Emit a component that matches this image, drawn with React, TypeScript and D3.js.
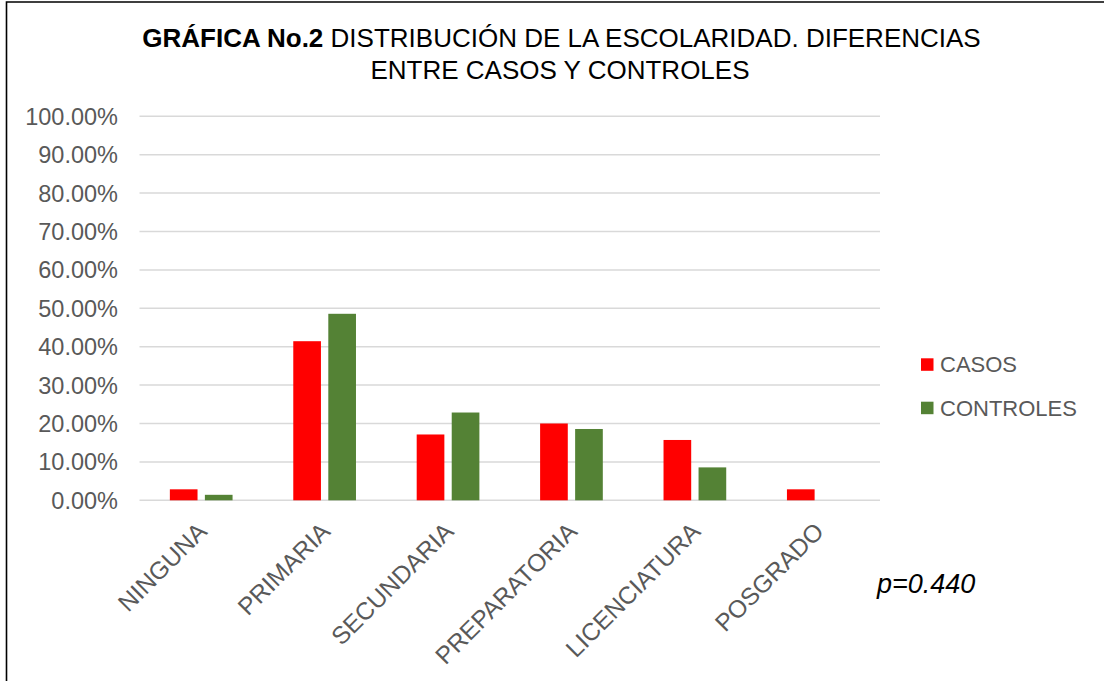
import React, { useEffect, useRef } from 'react';
import * as d3 from 'd3';

// datos de la gráfica
const categories = ['NINGUNA', 'PRIMARIA', 'SECUNDARIA', 'PREPARATORIA', 'LICENCIATURA', 'POSGRADO'];
const seriesNames = ['CASOS', 'CONTROLES'];
const casos = [2.86, 41.43, 17.14, 20.0, 15.71, 2.86];
const controles = [1.43, 48.57, 22.86, 18.57, 8.57, 0];
const yTicks = [0, 10, 20, 30, 40, 50, 60, 70, 80, 90, 100];
const colors = ['#FF0000', '#548235'];

const W = 1104;
const H = 681;
const FONT = '"Liberation Sans", Arial, sans-serif';

const App = () => {
  const svgRef = useRef<SVGSVGElement | null>(null);

  useEffect(() => {
    const svg = d3.select(svgRef.current);
    svg.selectAll('*').remove();

    svg.append('rect').attr('width', W).attr('height', H).attr('fill', '#fff');

    // marco (solo izquierda y arriba visibles)
    svg.append('path')
      .attr('d', `M6.5,${H} L6.5,2 L${W},2`)
      .attr('fill', 'none')
      .attr('stroke', '#000')
      .attr('stroke-width', 1.6);

    // escalas
    const x = d3.scaleBand().domain(categories).range([139.5, 880]).padding(0);
    const y = d3.scaleLinear().domain([0, 100]).range([500.3, 116.3]);
    const inner = d3.scaleBand().domain(seriesNames).paddingInner(0.21).paddingOuter(0);

    // título
    const title = svg.append('text')
      .attr('text-anchor', 'middle')
      .style('font-family', FONT)
      .style('font-size', '26px')
      .attr('fill', '#000');
    const l1 = title.append('tspan').attr('x', 561.5).attr('y', 47);
    l1.append('tspan').attr('font-weight', 'bold').text('GRÁFICA No.2');
    l1.append('tspan').text(' DISTRIBUCIÓN DE LA ESCOLARIDAD. DIFERENCIAS');
    title.append('tspan').attr('x', 560).attr('y', 78.5).text('ENTRE CASOS Y CONTROLES');

    // líneas de cuadrícula
    svg.append('g')
      .selectAll('line')
      .data(yTicks)
      .join('line')
        .attr('x1', x.range()[0])
        .attr('x2', x.range()[1])
        .attr('y1', d => y(d))
        .attr('y2', d => y(d))
        .attr('stroke', '#D9D9D9')
        .attr('stroke-width', 1.5);

    // etiquetas eje Y
    svg.append('g')
      .selectAll('text')
      .data(yTicks)
      .join('text')
        .attr('x', 118)
        .attr('y', d => y(d))
        .attr('dy', '0.36em')
        .attr('text-anchor', 'end')
        .style('font-family', FONT)
        .style('font-size', '23.5px')
        .attr('fill', '#595959')
        .text(d => d3.format('.2f')(d) + '%');

    // barras
    const values = [casos, controles];
    const groups = svg.append('g')
      .selectAll('g')
      .data(categories)
      .join('g');

    groups.each(function (cat, i) {
      const c = (x(cat) as number) + x.bandwidth() / 2;
      inner.range([c - 31.35, c + 31.35]);
      d3.select(this)
        .selectAll('rect')
        .data(seriesNames.map((s, j) => ({ s, v: values[j][i], j })))
        .join('rect')
          .attr('x', d => inner(d.s) as number)
          .attr('width', inner.bandwidth())
          .attr('y', d => y(d.v))
          .attr('height', d => y(0) - y(d.v))
          .attr('fill', d => colors[d.j]);
    });

    // etiquetas eje X (rotadas)
    svg.append('g')
      .selectAll('text')
      .data(categories)
      .join('text')
        .attr('transform', d => `translate(${(x(d) as number) + x.bandwidth() / 2 + 7},533) rotate(-45)`)
        .attr('text-anchor', 'end')
        .style('font-family', FONT)
        .style('font-size', '24.5px')
        .attr('fill', '#595959')
        .text(d => d);

    // leyenda
    const legend = svg.append('g')
      .selectAll('g')
      .data(seriesNames)
      .join('g')
        .attr('transform', (d, i) => `translate(921,${358.3 + i * 43.4})`);
    legend.append('rect')
      .attr('width', 12.5)
      .attr('height', 12.5)
      .attr('fill', (d, i) => colors[i]);
    legend.append('text')
      .attr('x', 19)
      .attr('y', 14)
      .style('font-family', FONT)
      .style('font-size', '22px')
      .attr('fill', '#595959')
      .text(d => d);

    // valor p
    svg.append('text')
      .attr('x', 877)
      .attr('y', 593)
      .style('font-family', FONT)
      .style('font-size', '27px')
      .style('font-style', 'italic')
      .attr('fill', '#000')
      .text('p=0.440');
  }, []);

  return (
    <svg
      ref={svgRef}
      width={W}
      height={H}
      style={{ position: 'absolute', left: 0, top: 0, display: 'block' }}
    />
  );
};

export default App;
